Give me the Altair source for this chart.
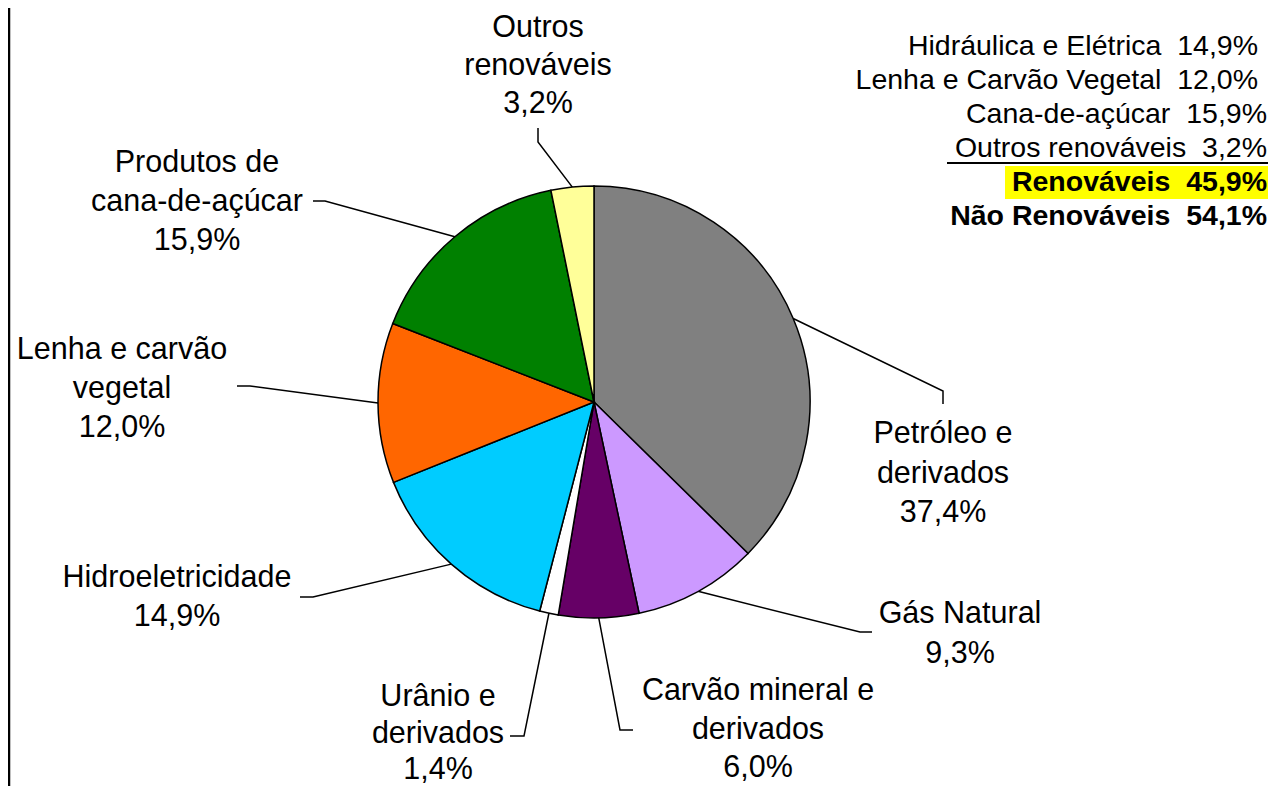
import math
import altair as alt
import pandas as pd

# ---------------- data ----------------
categories = ["Petróleo e derivados", "Gás Natural", "Carvão mineral e derivados",
              "Urânio e derivados", "Hidroeletricidade", "Lenha e carvão vegetal",
              "Produtos de cana-de-açúcar", "Outros renováveis"]
values = [37.4, 9.3, 6.0, 1.4, 14.9, 12.0, 15.9, 3.2]
value_labels = ["37,4%", "9,3%", "6,0%", "1,4%", "14,9%", "12,0%", "15,9%", "3,2%"]
label_lines = [["Petróleo e", "derivados"], ["Gás Natural"], ["Carvão mineral e", "derivados"],
               ["Urânio e", "derivados"], ["Hidroeletricidade"], ["Lenha e carvão", "vegetal"],
               ["Produtos de", "cana-de-açúcar"], ["Outros", "renováveis"]]
colors = ["#808080", "#CC99FF", "#660066", "#FFFFFF", "#00CCFF", "#FF6600", "#008000", "#FFFF99"]

summary_names = ["Hidráulica e Elétrica", "Lenha e Carvão Vegetal", "Cana-de-açúcar",
                 "Outros renováveis", "Renováveis", "Não Renováveis"]
summary_values = ["14,9%", "12,0%", "15,9%", "3,2%", "45,9%", "54,1%"]

# ---------------- layout (pixels, reference image coordinates) ----------------
W, H = 1262, 778
CX, CY, R = 594, 402, 216
FONT = "Liberation Sans"
label_x = [943, 960, 758, 438, 177, 122, 197, 538]
label_top = [434, 614, 691, 697, 578, 350, 163, 28]
label_step = [39.5, 40, 38.5, 36.5, 39, 39, 39, 38]
elbows = [(943, 391), (860, 632), (620, 730), (524, 736), (313, 597), (250, 386), (325, 201), (538, 142)]
ends = [(943, 404), (872, 632), (633, 730), (510, 736), (300, 597), (237, 386), (313, 201), (538, 128)]
summary_right = [1258, 1258, 1267, 1267, 1267, 1267]
summary_y = [46, 80, 114, 148, 182, 216]
summary_bold = [False, False, False, False, True, True]

xs = alt.Scale(domain=[8, 8 + W])
ys = alt.Scale(domain=[8 + H, 8])

# ---------------- pie ----------------
pie_df = pd.DataFrame({"category": categories, "value": values, "ord": list(range(len(values)))})
pie = alt.Chart(pie_df).mark_arc(
    outerRadius=R, stroke="black", strokeWidth=1.5, x=CX - 8, y=CY - 8
).encode(
    theta=alt.Theta("value:Q", stack=True),
    color=alt.Color("category:N", scale=alt.Scale(domain=categories, range=colors), legend=None),
    order=alt.Order("ord:Q"),
)

# ---------------- leader lines ----------------
total = sum(values)
rows = []
cum = 0.0
for i, v in enumerate(values):
    mid = (cum + v / 2) / total * 2 * math.pi
    cum += v
    ex = CX + R * math.sin(mid)
    ey = CY - R * math.cos(mid)
    pts = [(ex, ey), elbows[i], ends[i]]
    for j, (px, py) in enumerate(pts):
        rows.append({"cat": categories[i], "seq": j, "x": px, "y": py})
lead_df = pd.DataFrame(rows)
leaders = alt.Chart(lead_df).mark_line(color="black", strokeWidth=1.5).encode(
    x=alt.X("x:Q", scale=xs, axis=None),
    y=alt.Y("y:Q", scale=ys, axis=None),
    detail="cat:N",
    order="seq:Q",
)

# ---------------- slice labels ----------------
trows = []
for i in range(len(categories)):
    lines = label_lines[i] + [value_labels[i]]
    for j, t in enumerate(lines):
        trows.append({"text": t, "x": label_x[i], "y": label_top[i] + j * label_step[i]})
text_df = pd.DataFrame(trows)
labels = alt.Chart(text_df).mark_text(
    font=FONT, fontSize=30.5, align="center", baseline="middle", color="black"
).encode(
    x=alt.X("x:Q", scale=xs, axis=None),
    y=alt.Y("y:Q", scale=ys, axis=None),
    text="text:N",
)

# ---------------- summary table ----------------
sum_df = pd.DataFrame({
    "text": [n + " \u00a0" + v for n, v in zip(summary_names, summary_values)],
    "x": summary_right,
    "y": summary_y,
    "w": ["bold" if b else "normal" for b in summary_bold],
})
highlight = alt.Chart(pd.DataFrame({"x": [1005], "x2": [1268], "y": [166], "y2": [199]})).mark_rect(
    color="#FFFF00"
).encode(
    x=alt.X("x:Q", scale=xs, axis=None), x2="x2:Q",
    y=alt.Y("y:Q", scale=ys, axis=None), y2="y2:Q",
)
underline = alt.Chart(pd.DataFrame({"x": [947], "x2": [1268], "y": [163]})).mark_rule(
    color="black", strokeWidth=2
).encode(
    x=alt.X("x:Q", scale=xs, axis=None), x2="x2:Q",
    y=alt.Y("y:Q", scale=ys, axis=None),
)
summary_normal = alt.Chart(sum_df[sum_df["w"] == "normal"]).mark_text(
    font=FONT, fontSize=28.5, align="right", baseline="middle", color="black"
).encode(
    x=alt.X("x:Q", scale=xs, axis=None),
    y=alt.Y("y:Q", scale=ys, axis=None),
    text="text:N",
)
summary_bold_layer = alt.Chart(sum_df[sum_df["w"] == "bold"]).mark_text(
    font=FONT, fontSize=28.5, fontWeight="bold", align="right", baseline="middle", color="black"
).encode(
    x=alt.X("x:Q", scale=xs, axis=None),
    y=alt.Y("y:Q", scale=ys, axis=None),
    text="text:N",
)

# ---------------- left frame line ----------------
frame = alt.Chart(pd.DataFrame({"x": [9], "y": [8], "y2": [8 + H]})).mark_rule(
    color="black", strokeWidth=2.5
).encode(
    x=alt.X("x:Q", scale=xs, axis=None),
    y=alt.Y("y:Q", scale=ys, axis=None), y2="y2:Q",
)

chart = alt.layer(
    frame, leaders, pie, labels, highlight, underline, summary_normal, summary_bold_layer
).properties(
    width=W, height=H, autosize=alt.AutoSizeParams(type="none"), padding=0,
    background="white",
).configure_view(stroke=None)

chart.save("out.html", embed_options={"renderer": "svg", "actions": False})
